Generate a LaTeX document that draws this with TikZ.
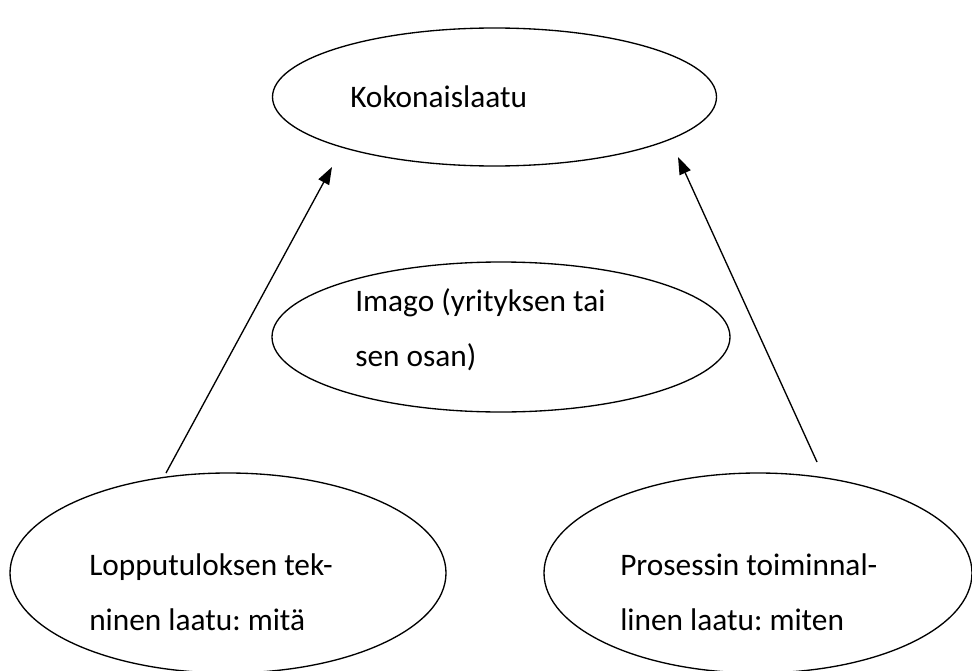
\documentclass[tikz,border=0pt]{standalone}
\usepackage{fontspec}
\setmainfont{Carlito}
\frenchspacing
\usetikzlibrary{shapes.geometric,arrows.meta}
\begin{document}
\begin{tikzpicture}[x={(0.75pt,0)},y={(0,-0.75pt)},
  oval/.style={draw=black,line width=1pt,ellipse,inner sep=0pt},
  lbl/.style={anchor=base west,inner sep=0pt,font=\fontsize{23.5pt}{28pt}\selectfont},
  arr/.style={draw=black,line width=1pt,-{Triangle[length=13pt,width=9pt]}}]
\useasboundingbox[fill=white] (0,0) rectangle (972,671);
\begin{scope}
\clip (0,0) rectangle (972,671);
\node[oval,minimum width=333pt,minimum height=103.5pt] (top) at (494.5,97) {};
\node[oval,minimum width=343.5pt,minimum height=112.5pt] (mid) at (501,337) {};
\node[oval,minimum width=327pt,minimum height=150pt] (bl) at (228,573) {};
\node[oval,minimum width=321pt,minimum height=150pt] (br) at (758,573) {};
\end{scope}
\node[lbl] (t1) at (350,107) {Kokonaislaatu};
\node[lbl] (m1) at (355,311) {Imago (yrityksen tai};
\node[lbl] (m2) at (355,366) {sen osan)};
\node[lbl] (l1) at (89,575) {Lopputuloksen tek-};
\node[lbl] (l2) at (89,630) {ninen laatu: mitä};
\node[lbl] (r1) at (620,575) {Prosessin toiminnal-};
\node[lbl] (r2) at (620,630) {linen laatu: miten};
\coordinate (la) at (166,473);
\coordinate (lb) at (332,167);
\coordinate (ra) at (817,462);
\coordinate (rb) at (678,157);
\draw[arr] (la) -- (lb);
\draw[arr] (ra) -- (rb);
\end{tikzpicture}
\end{document}
